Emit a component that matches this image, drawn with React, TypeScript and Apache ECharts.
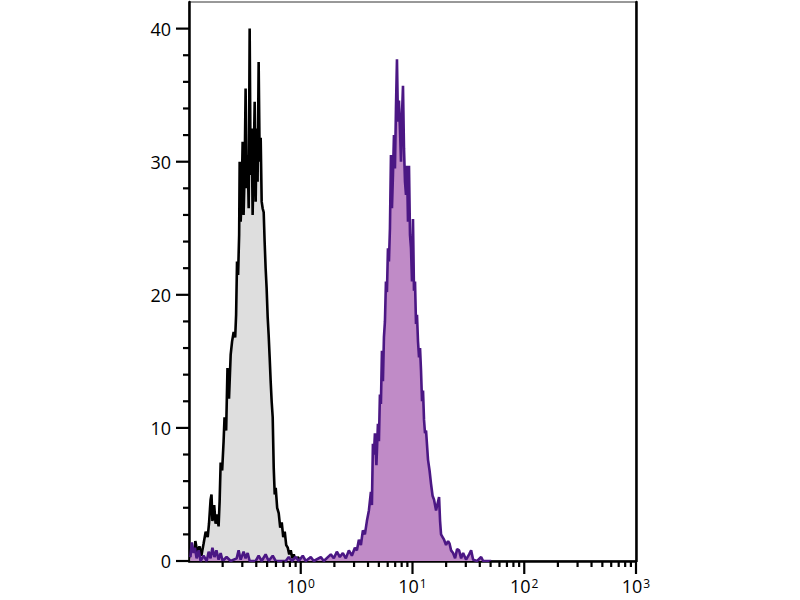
import { useEffect, useRef } from 'react';
import * as echarts from 'echarts';

// Control (unstained) histogram: fluorescence intensity and event count
const controlX = [
  0.103, 0.1075, 0.111, 0.114, 0.119, 0.124, 0.129, 0.135, 0.141, 0.147, 0.151, 0.156, 0.159, 0.162,
  0.168, 0.173, 0.178, 0.184, 0.188, 0.192, 0.198, 0.204, 0.208, 0.215, 0.221, 0.228, 0.236, 0.243,
  0.251, 0.259, 0.264, 0.269, 0.275, 0.281, 0.284, 0.29, 0.296, 0.302, 0.308, 0.315, 0.321, 0.328,
  0.335, 0.342, 0.349, 0.356, 0.364, 0.371, 0.379, 0.387, 0.395, 0.403, 0.411, 0.42, 0.429, 0.438,
  0.447, 0.456, 0.466, 0.475, 0.485, 0.495, 0.506, 0.516, 0.527, 0.538, 0.549, 0.561, 0.573, 0.585,
  0.597, 0.615, 0.635, 0.655, 0.676, 0.697, 0.719, 0.741, 0.765, 0.789, 0.814, 0.839, 0.866, 0.902,
  0.94, 1.0, 1.109,
];
const controlY = [
  0.2, 0.8, 0.3, 1.5, 0.6, 1.1, 0.4, 1.3, 2.2, 1.8, 2.8, 4.6, 5.0, 3.0,
  4.2, 2.8, 3.5, 2.6, 4.5, 7.4, 6.8, 9.0, 10.8, 9.8, 14.5, 12.2, 15.5, 16.5,
  17.2, 16.8, 18.5, 22.5, 21.5, 24.5, 30.0, 25.5, 27.5, 31.5, 26.0, 29.5, 35.5, 28.0,
  30.5, 26.5, 40.0, 29.0, 32.5, 26.0, 30.0, 34.5, 27.0, 32.5, 28.5, 37.5, 30.0, 31.8,
  27.0, 26.5, 26.2, 24.0, 22.0, 20.5, 18.3, 17.0, 15.3, 13.5, 12.0, 10.8, 7.0, 5.0,
  5.5, 4.0, 3.6, 2.5, 2.9, 1.8, 2.2, 1.2, 1.0, 0.5, 0.8, 0.2, 0.5, 0,
  0.3, 0, 0,
];

// Stained sample histogram
const stainedX = [
  0.103, 0.106, 0.11, 0.113, 0.117, 0.122, 0.127, 0.135, 0.144, 0.15, 0.156, 0.162, 0.169, 0.176,
  0.184, 0.192, 0.2, 0.217, 0.236, 0.267, 0.278, 0.29, 0.308, 0.321, 0.335, 0.349, 0.395, 0.42,
  0.447, 0.485, 0.516, 0.561, 0.597, 0.734, 0.781, 0.831, 0.902, 0.96, 1.042, 1.109, 1.229, 1.308,
  1.512, 1.608, 1.858, 1.977, 2.103, 2.238, 2.381, 2.532, 2.695, 2.867, 3.051, 3.18, 3.313, 3.453,
  3.598, 3.75, 3.907, 4.072, 4.244, 4.333, 4.423, 4.515, 4.61, 4.754, 4.904, 5.006, 5.11, 5.217,
  5.327, 5.437, 5.551, 5.667, 5.785, 5.906, 6.03, 6.154, 6.283, 6.415, 6.549, 6.685, 6.825, 6.966,
  7.112, 7.261, 7.413, 7.567, 7.726, 7.888, 8.052, 8.22, 8.393, 8.566, 8.745, 8.928, 9.113, 9.303,
  9.497, 9.694, 9.897, 10.1, 10.31, 10.53, 10.75, 10.97, 11.2, 11.44, 11.68, 11.92, 12.17, 12.42,
  12.68, 12.94, 13.22, 13.77, 14.21, 14.65, 15.12, 15.59, 16.25, 16.76, 17.29, 17.65, 18.01, 18.58,
  19.16, 19.97, 20.82, 21.47, 22.15, 23.08, 24.05, 25.07, 26.12, 27.23, 28.38, 30.18, 32.12, 33.47,
  34.88, 37.89, 41.14, 42.88, 50.58,
];
const stainedY = [
  0.3, 1.4, 0.6, 1.0, 0.2, 0.8, 0, 0.4, 0, 0.7, 0.2, 1.0, 0.3, 0.8,
  0.1, 0.6, 0, 0.3, 0, 0.2, 0.8, 0.1, 0.7, 0.2, 0.6, 0, 0, 0.4,
  0, 0.5, 0, 0.4, 0, 0, 0.3, 0, 0.3, 0, 0.4, 0, 0.3, 0,
  0.3, 0, 0.5, 0.2, 0.7, 0.3, 0.6, 0.2, 0.8, 0.4, 1.0, 0.8, 1.6, 1.2,
  2.3, 2.0, 3.0, 3.8, 5.2, 4.2, 8.8, 8.0, 9.6, 7.2, 10.3, 9.0, 12.5, 11.8,
  15.8, 13.5, 16.8, 18.0, 21.0, 20.2, 23.5, 22.5, 25.0, 30.5, 26.5, 29.0, 32.0, 29.5,
  34.0, 37.7, 33.0, 34.6, 32.5, 30.0, 33.5, 35.7, 31.0, 28.5, 27.5, 29.7, 25.5, 29.7,
  24.5, 23.5, 21.0, 25.7, 20.3, 21.0, 17.8, 18.5, 16.5, 15.3, 16.0, 14.3, 12.0, 12.8,
  10.6, 9.6, 9.8, 7.6, 6.8, 5.8, 4.9, 4.6, 3.8, 4.3, 4.8, 3.0, 2.0, 1.8,
  1.6, 1.2, 1.5, 1.3, 0.8, 0.6, 0.2, 0.9, 0.8, 0.2, 0.6, 0.1, 0.5, 0.8,
  0.1, 0, 0.3, 0, 0,
];

// Axis ticks
const yMajorTicks = [0, 10, 20, 30, 40];
const yMinorTicks = [2, 4, 6, 8, 12, 14, 16, 18, 22, 24, 26, 28, 32, 34, 36, 38];
const xMajorTicks = [1, 10, 100, 1000];
const xMinorTicks = [
  0.2, 0.3, 0.4, 0.5, 0.6, 0.7, 0.8, 0.9,
  2, 3, 4, 5, 6, 7, 8, 9,
  20, 30, 40, 50, 60, 70, 80, 90,
  200, 300, 400, 500, 600, 700, 800, 900,
];

const FONT = '"Open Sans", "Noto Sans", sans-serif';

export default function App() {
  const ref = useRef<HTMLDivElement>(null);

  useEffect(() => {
    if (!ref.current) return;
    const chart = echarts.init(ref.current, undefined, { renderer: 'svg' });

    const control = controlX.map((x, i) => [x, controlY[i]]);
    const stained = stainedX.map((x, i) => [x, stainedY[i]]);
    // kind: 0 x major, 1 x minor, 2 y major, 3 y minor
    const tickData: number[][] = [
      ...xMajorTicks.map((v) => [v, 0, 0]),
      ...xMinorTicks.map((v) => [v, 0, 1]),
      ...yMajorTicks.map((v) => [0.1, v, 2]),
      ...yMinorTicks.map((v) => [0.1, v, 3]),
    ];

    const option: any = {
      animation: false,
      backgroundColor: '#ffffff',
      grid: {
        left: 189,
        right: 164,
        top: 2,
        bottom: 39,
        show: true,
        borderColor: '#333',
        borderWidth: 1,
        backgroundColor: 'transparent',
      },
      xAxis: [
        {
          type: 'log',
          logBase: 10,
          min: 0.1,
          max: 1000,
          axisLine: { show: true, lineStyle: { color: '#000', width: 2.5 } },
          axisTick: { show: false },
          splitLine: { show: false },
          axisLabel: {
            margin: 16,
            color: '#000',
            fontFamily: FONT,
            lineHeight: 18,
            formatter: (v: number) => {
              const e = Math.round(Math.log10(v));
              if (e < 0) return '';
              return '{b|10}{s|' + e + '}';
            },
            rich: {
              b: { fontSize: 18, fontFamily: FONT, color: '#000', lineHeight: 18 },
              s: { fontSize: 12, fontFamily: FONT, color: '#000', lineHeight: 10, verticalAlign: 'top', padding: [0, 0, 0, 1] },
            },
          },
        },
      ],
      yAxis: [
        {
          type: 'value',
          min: 0,
          max: 42,
          interval: 10,
          position: 'left',
          axisLine: { show: true, lineStyle: { color: '#000', width: 2.5 } },
          axisTick: { show: false },
          splitLine: { show: false },
          axisLabel: {
            margin: 18,
            color: '#000',
            fontSize: 18,
            fontFamily: FONT,
            formatter: (v: number) => (yMajorTicks.indexOf(v) >= 0 ? String(v) : ''),
          },
        },
        {
          type: 'value',
          min: 0,
          max: 42,
          position: 'right',
          axisLine: { show: true, onZero: false, lineStyle: { color: '#000', width: 2.5 } },
          axisTick: { show: false },
          axisLabel: { show: false },
          splitLine: { show: false },
        },
      ],
      series: [
        {
          name: 'Control',
          type: 'line',
          data: control,
          symbol: 'none',
          lineStyle: { color: '#000000', width: 2.6 },
          areaStyle: { color: '#dedede', opacity: 1 },
          z: 2,
        },
        {
          name: 'Stained',
          type: 'line',
          data: stained,
          symbol: 'none',
          lineStyle: { color: '#4b1784', width: 2.6 },
          areaStyle: { color: '#c08bc7', opacity: 1 },
          z: 3,
        },
        {
          name: 'ticks',
          type: 'custom',
          silent: true,
          clip: false,
          z: 10,
          data: tickData,
          renderItem: (_params: any, api: any) => {
            const p = api.coord([api.value(0), api.value(1)]);
            const k = api.value(2);
            let shape;
            if (k === 0) shape = { x1: p[0], y1: p[1], x2: p[0], y2: p[1] + 13 };
            else if (k === 1) shape = { x1: p[0], y1: p[1], x2: p[0], y2: p[1] + 6 };
            else if (k === 2) shape = { x1: p[0] - 13, y1: p[1], x2: p[0], y2: p[1] };
            else shape = { x1: p[0] - 6, y1: p[1], x2: p[0], y2: p[1] };
            return { type: 'line', shape, style: { stroke: '#000', lineWidth: 2.2 } };
          },
        },
      ],
    };

    chart.setOption(option);
    return () => chart.dispose();
  }, []);

  return (
    <div
      ref={ref}
      style={{ position: 'fixed', left: 0, top: 0, width: 800, height: 600, background: '#fff' }}
    />
  );
}
